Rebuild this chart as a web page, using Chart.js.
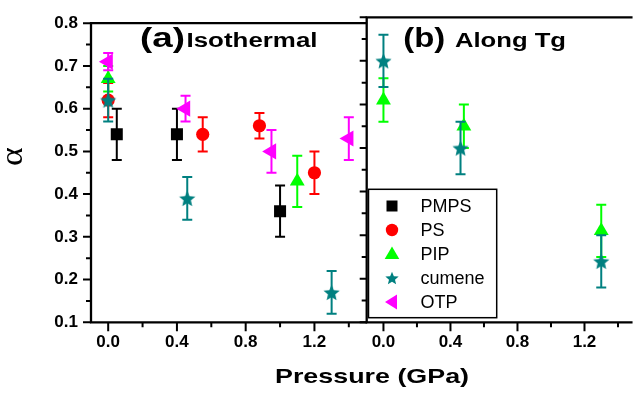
<!DOCTYPE html>
<html><head><meta charset="utf-8">
<script src="https://cdn.jsdelivr.net/npm/chart.js@4.4.1/dist/chart.umd.min.js"></script>
<style>
html,body{margin:0;padding:0;width:640px;height:394px;overflow:hidden;background:#fff;}
#wa{position:absolute;left:0;top:0;width:640px;height:394px;}
#wb{position:absolute;left:358px;top:0;width:282px;height:394px;}
</style></head><body>
<div id="wa"><canvas id="ca"></canvas></div>
<div id="wb"><canvas id="cb"></canvas></div>
<script>
// ---------- DATA ----------
const seriesNames  = ['PMPS', 'PS', 'PIP', 'cumene', 'OTP'];
const seriesColors = ['#000000', '#ff0000', '#00ff00', '#008080', '#ff00ff'];

const xTickVals  = [0.0, 0.4, 0.8, 1.2];
const xMinorVals = [0.2, 0.6, 1.0, 1.4];
const yTickVals  = [0.1, 0.2, 0.3, 0.4, 0.5, 0.6, 0.7, 0.8];
const yMinorVals = [0.15, 0.25, 0.35, 0.45, 0.55, 0.65, 0.75];

// Panel (a) Isothermal
const a_PMPS_x = [0.05, 0.40, 1.00];
const a_PMPS_y = [0.54, 0.54, 0.36];
const a_PMPS_e = [0.06, 0.06, 0.06];
const a_PS_x = [0.00, 0.55, 0.88, 1.20];
const a_PS_y = [0.62, 0.54, 0.56, 0.45];
const a_PS_e = [0.04, 0.04, 0.03, 0.05];
const a_PIP_x = [0.00, 1.10];
const a_PIP_y = [0.67, 0.43];
const a_PIP_e = [0.03, 0.06];
const a_cumene_x = [0.00, 0.46, 1.30];
const a_cumene_y = [0.62, 0.39, 0.17];
const a_cumene_e = [0.05, 0.05, 0.05];
const a_OTP_x = [0.00, 0.45, 0.95, 1.40];
const a_OTP_y = [0.71, 0.60, 0.50, 0.53];
const a_OTP_e = [0.02, 0.03, 0.05, 0.05];

// Panel (b) Along Tg
const b_PIP_x = [0.00, 0.48, 1.30];
const b_PIP_y = [0.61, 0.55, 0.31];
const b_PIP_e = [0.05, 0.05, 0.06];
const b_cumene_x = [0.00, 0.46, 1.30];
const b_cumene_y = [0.70, 0.50, 0.24];
const b_cumene_e = [0.06, 0.06, 0.06];

const titleA1 = '(a)', titleA2 = 'Isothermal';
const titleB1 = '(b)', titleB2 = 'Along Tg';
const xTitle = 'Pressure (GPa)';
const yTitle = 'α';

// ---------- HELPERS ----------
const FONT = '"Liberation Sans", Arial, Helvetica, sans-serif';

function makeStar(R, color) {
  const s = Math.ceil(2 * R + 2);
  const c = document.createElement('canvas');
  c.width = s; c.height = s;
  const g = c.getContext('2d');
  g.fillStyle = color;
  g.beginPath();
  for (let k = 0; k < 10; k++) {
    const r = (k % 2) ? R * 0.45 : R;
    const ang = -Math.PI / 2 + k * Math.PI / 5;
    const px = s / 2 + r * Math.cos(ang), py = s / 2 + R * 0.1 + r * Math.sin(ang);
    if (k === 0) g.moveTo(px, py); else g.lineTo(px, py);
  }
  g.closePath(); g.fill();
  return c;
}
const starImg = makeStar(8.5, seriesColors[3]);

const styles = {
  PMPS:   {pointStyle: 'rect', radius: 8.5, rotation: 0},
  PS:     {pointStyle: 'circle', radius: 6.6, rotation: 0},
  PIP:    {pointStyle: 'triangle', radius: 8.6, rotation: 0},
  cumene: {pointStyle: starImg, radius: 8, rotation: 0},
  OTP:    {pointStyle: 'triangle', radius: 9.3, rotation: -90}
};
const drawOrder = {PMPS: 5, PS: 4, PIP: 3, cumene: 2, OTP: 1};

function mkDataset(name, xs, ys, es) {
  const idx = seriesNames.indexOf(name);
  const st = styles[name];
  return {
    label: name,
    data: xs.map((x, i) => ({x: x, y: ys[i], e: es[i]})),
    backgroundColor: seriesColors[idx],
    borderColor: seriesColors[idx],
    pointStyle: st.pointStyle,
    pointRadius: st.radius,
    pointRotation: st.rotation,
    pointBorderWidth: 0,
    showLine: false,
    order: drawOrder[name]
  };
}

const errorBars = {
  id: 'errorBars',
  beforeDatasetDraw(chart, args) {
    const ds = chart.data.datasets[args.index];
    const xs = chart.scales.x, ys = chart.scales.y;
    const ctx = chart.ctx;
    ctx.save();
    ctx.strokeStyle = ds.borderColor;
    ctx.lineWidth = 2;
    ds.data.forEach(d => {
      const px = xs.getPixelForValue(d.x);
      const pt = ys.getPixelForValue(d.y + d.e);
      const pb = ys.getPixelForValue(d.y - d.e);
      ctx.beginPath();
      ctx.moveTo(px, pt); ctx.lineTo(px, pb);
      ctx.moveTo(px - 5, pt); ctx.lineTo(px + 5, pt);
      ctx.moveTo(px - 5, pb); ctx.lineTo(px + 5, pb);
      ctx.stroke();
    });
    ctx.restore();
  }
};

function fitText(ctx, text, x, baseline, targetW, font) {
  ctx.save();
  ctx.font = font;
  const w = ctx.measureText(text).width;
  ctx.translate(x, baseline);
  ctx.scale(targetW / w, 1);
  ctx.textAlign = 'left';
  ctx.textBaseline = 'alphabetic';
  ctx.fillText(text, 0, 0);
  ctx.restore();
}

function drawFrame(chart, leftSide) {
  const ctx = chart.ctx, a = chart.chartArea;
  const xs = chart.scales.x, ys = chart.scales.y;
  ctx.save();
  ctx.strokeStyle = '#000';
  ctx.lineWidth = 2.3;
  ctx.lineCap = 'square';
  ctx.beginPath();
  ctx.moveTo(a.left, a.top); ctx.lineTo(a.left, a.bottom);
  ctx.lineTo(a.right, a.bottom);
  ctx.moveTo(a.left, a.top); ctx.lineTo(a.right, a.top);
  ctx.stroke();
  ctx.lineWidth = 2;
  ctx.lineCap = 'butt';
  ctx.beginPath();
  xTickVals.forEach(v => { const p = xs.getPixelForValue(v); ctx.moveTo(p, a.bottom); ctx.lineTo(p, a.bottom + 9); });
  xMinorVals.forEach(v => { const p = xs.getPixelForValue(v); if (p <= a.right) { ctx.moveTo(p, a.bottom); ctx.lineTo(p, a.bottom + 5); } });
  const maj = leftSide ? 8 : 7, mn = 5;
  yTickVals.forEach(v => { const p = ys.getPixelForValue(v); ctx.moveTo(a.left - maj, p); ctx.lineTo(a.left, p); });
  yMinorVals.forEach(v => { const p = ys.getPixelForValue(v); ctx.moveTo(a.left - mn, p); ctx.lineTo(a.left, p); });
  ctx.stroke();
  ctx.restore();
}

function drawMarker(ctx, name, x, y) {
  const c = seriesColors[seriesNames.indexOf(name)];
  ctx.save();
  ctx.fillStyle = c;
  ctx.beginPath();
  if (name === 'PMPS') { ctx.rect(x - 5.5, y - 5.5, 11, 11); ctx.fill(); }
  else if (name === 'PS') { ctx.arc(x, y, 6.2, 0, Math.PI * 2); ctx.fill(); }
  else if (name === 'PIP') { ctx.moveTo(x, y - 7.5); ctx.lineTo(x + 7.3, y + 5); ctx.lineTo(x - 7.3, y + 5); ctx.closePath(); ctx.fill(); }
  else if (name === 'cumene') { const im = makeStar(7, c); ctx.drawImage(im, x - im.width / 2, y - im.height / 2); }
  else if (name === 'OTP') { ctx.moveTo(x - 7, y); ctx.lineTo(x + 5, y - 7.5); ctx.lineTo(x + 5, y + 7.5); ctx.closePath(); ctx.fill(); }
  ctx.restore();
}

const decoA = {
  id: 'decoA',
  afterDraw(chart) {
    drawFrame(chart, true);
    const ctx = chart.ctx;
    ctx.save();
    ctx.fillStyle = '#000';
    fitText(ctx, titleA1, 140, 46.5, 45, 'bold 27px ' + FONT);
    fitText(ctx, titleA2, 186.5, 46.7, 131, 'bold 19.5px ' + FONT);
    fitText(ctx, xTitle, 275, 383.3, 194, 'bold 21px ' + FONT);
    // y title alpha
    ctx.translate(16.7, 156.7);
    ctx.rotate(-Math.PI / 2);
    ctx.font = '31px "Liberation Serif", "Times New Roman", serif';
    ctx.textAlign = 'center';
    ctx.textBaseline = 'middle';
    ctx.scale(1.15, 1);
    ctx.fillText(yTitle, 0, -3);
    ctx.restore();
  }
};

const decoB = {
  id: 'decoB',
  afterDraw(chart) {
    drawFrame(chart, false);
    const ctx = chart.ctx;
    ctx.save();
    ctx.fillStyle = '#000';
    fitText(ctx, titleB1, 45.3, 47.3, 42, 'bold 27px ' + FONT);
    fitText(ctx, titleB2, 97, 46.7, 111, 'bold 19.5px ' + FONT);
    // legend
    ctx.strokeStyle = '#000';
    ctx.lineWidth = 1.5;
    ctx.strokeRect(10.5, 189.3, 128.2, 128.4);
    ctx.font = '18px ' + FONT;
    ctx.textAlign = 'left';
    ctx.textBaseline = 'middle';
    seriesNames.forEach((n, i) => {
      const y = 206 + 24 * i;
      drawMarker(ctx, n, 34, y);
      ctx.fillStyle = '#000';
      ctx.fillText(n, 62.5, y + 1);
    });
    ctx.restore();
  }
};

function baseOptions(pad, xMax, showY) {
  return {
    animation: false,
    responsive: true,
    maintainAspectRatio: false,
    events: [],
    layout: {padding: pad},
    plugins: {legend: {display: false}, tooltip: {enabled: false}},
    scales: {
      x: {
        type: 'linear', min: -0.1, max: xMax,
        afterBuildTicks: s => { s.ticks = xTickVals.map(v => ({value: v})); },
        afterFit: s => { s.height = 71.7; },
        ticks: {callback: v => Number(v).toFixed(1), color: '#000', padding: 10, maxRotation: 0, autoSkip: false,
                font: {family: FONT, weight: 'bold', size: 17}},
        grid: {display: false, drawTicks: false, tickLength: 0},
        border: {display: false}
      },
      y: {
        type: 'linear', min: 0.1, max: 0.8, display: showY,
        afterBuildTicks: s => { s.ticks = yTickVals.map(v => ({value: v})); },
        afterFit: s => { s.width = showY ? 91 : 0; },
        ticks: {callback: v => Number(v).toFixed(1), color: '#000', padding: 13, autoSkip: false,
                font: {family: FONT, weight: 'bold', size: 17}},
        grid: {display: false, drawTicks: false, tickLength: 0},
        border: {display: false}
      }
    }
  };
}

new Chart(document.getElementById('ca'), {
  type: 'scatter',
  data: {datasets: [
    mkDataset('PMPS', a_PMPS_x, a_PMPS_y, a_PMPS_e),
    mkDataset('PS', a_PS_x, a_PS_y, a_PS_e),
    mkDataset('PIP', a_PIP_x, a_PIP_y, a_PIP_e),
    mkDataset('cumene', a_cumene_x, a_cumene_y, a_cumene_e),
    mkDataset('OTP', a_OTP_x, a_OTP_y, a_OTP_e)
  ]},
  options: baseOptions({left: 0, top: 17.3, right: 274, bottom: 0}, 1.5, true),
  plugins: [errorBars, decoA]
});

new Chart(document.getElementById('cb'), {
  type: 'scatter',
  data: {datasets: [
    mkDataset('PIP', b_PIP_x, b_PIP_y, b_PIP_e),
    mkDataset('cumene', b_cumene_x, b_cumene_y, b_cumene_e)
  ]},
  options: baseOptions({left: 8.7, top: 17.3, right: 0, bottom: 0}, 1.48, false),
  plugins: [errorBars, decoB]
});
</script>
</body></html>
